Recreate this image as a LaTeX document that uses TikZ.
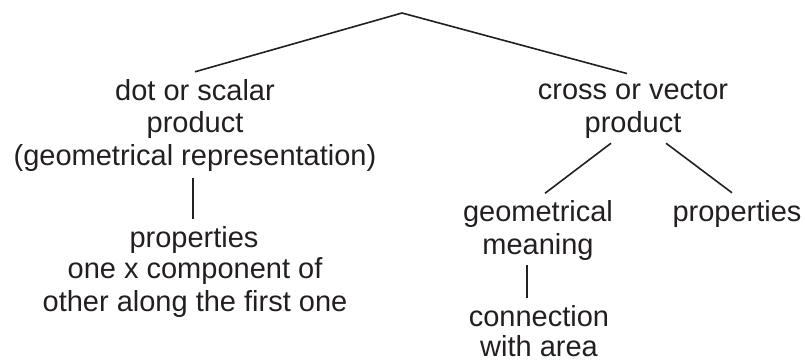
\documentclass[tikz,border=0pt]{standalone}
\usepackage{fontspec}
\setmainfont{Liberation Sans}
\usetikzlibrary{calc}
\definecolor{ink}{HTML}{231F20}
\tikzset{
  lbl/.style={font=\fontsize{29}{32.5}\selectfont, text=ink, align=center, inner sep=7pt, anchor=base},
  branch/.style={draw=ink, line width=1.6pt}
}
\begin{document}
\begin{tikzpicture}[x=1pt, y=-1pt]
  \path[use as bounding box] (0,0) rectangle (805,360);

  % top of the tree
  \coordinate (root) at (402,13);

  % dot product branch (node positions are the baselines of their last lines)
  \node[lbl] (dot) at (195,165) {dot or scalar\\product\\(geometrical representation)};
  \node[lbl] (lprop) at (194,247) {properties};
  \node[lbl] (note) at (195,311) {one x component of\\other along the first one};

  % cross product branch
  \node[lbl] (cross) at (633,132) {cross or vector\\product};
  \node[lbl] (geo) at (538,254) {geometrical\\meaning};
  \node[lbl] (rprop) at (737,221) {properties};
  \node[lbl] (conn) at (539,356) {connection\\[-3pt]with area};

  % connectors
  \draw[branch] (dot.north) -- (root) -- ($(cross.north)+(-6,0)$);
  \draw[branch] (dot.south -| 193,0) -- (lprop.north -| 193,0);
  \draw[branch] ($(cross.south)+(-22,-2)$) -- ($(geo.north)+(7,0)$);
  \draw[branch] ($(cross.south)+(33,-2)$) -- ($(rprop.north)+(-5,0)$);
  \draw[branch] ($(geo.south -| 527,0)+(0,-2)$) -- (conn.north -| 527,0);
\end{tikzpicture}
\end{document}
